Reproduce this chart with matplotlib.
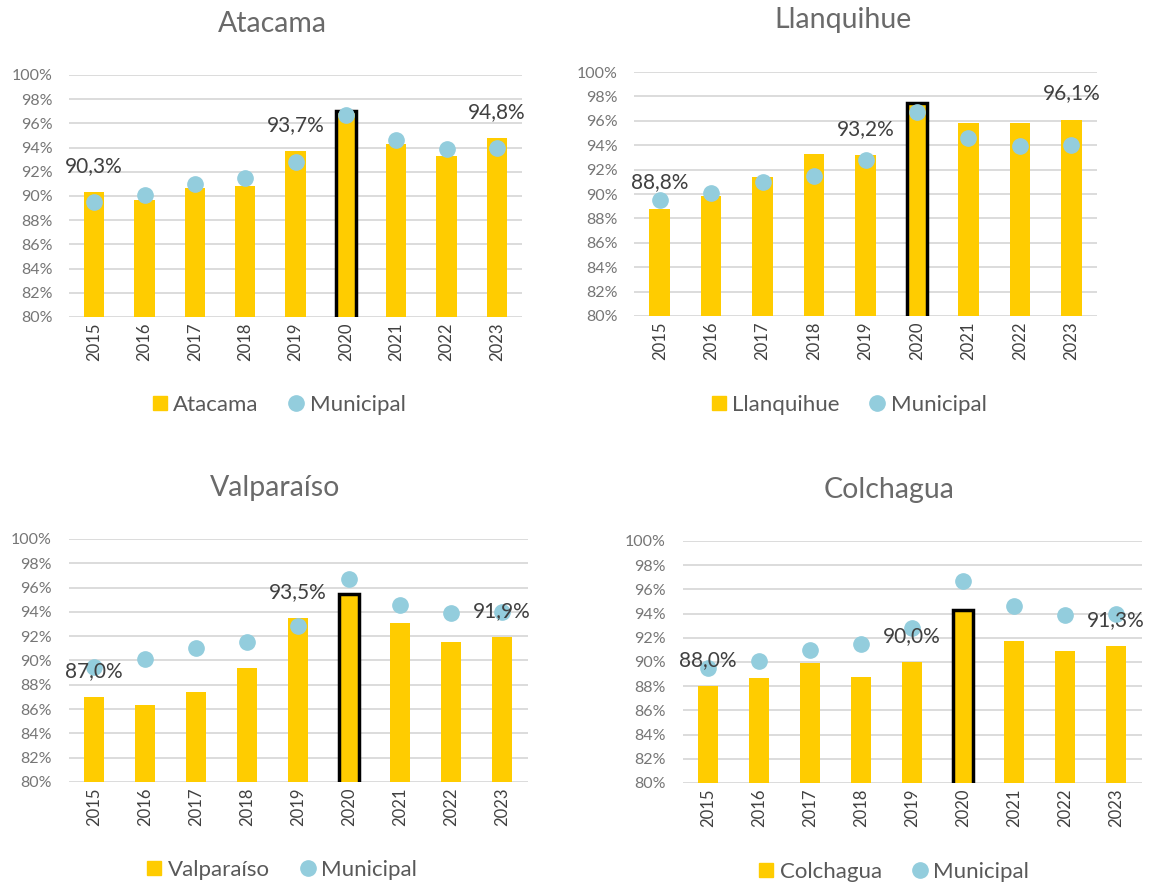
import matplotlib

matplotlib.use("Agg")
import matplotlib.pyplot as plt
from matplotlib.lines import Line2D
from matplotlib.ticker import FuncFormatter

plt.rcParams["font.family"] = ["Lato", "DejaVu Sans"]

years = ["2015", "2016", "2017", "2018", "2019", "2020", "2021", "2022", "2023"]
municipal = [89.5, 90.1, 91.0, 91.5, 92.8, 96.7, 94.6, 93.9, 94.0]
atacama = [90.3, 89.7, 90.7, 90.8, 93.7, 97.0, 94.3, 93.3, 94.8]
llanquihue = [88.8, 89.8, 91.4, 93.3, 93.2, 97.5, 95.8, 95.8, 96.1]
valparaiso = [87.0, 86.3, 87.4, 89.4, 93.5, 95.5, 93.1, 91.5, 91.9]
colchagua = [88.0, 88.7, 89.9, 88.8, 90.0, 94.3, 91.7, 90.9, 91.3]
labelled = [0, 4, 8]
highlight = 5

BAR = "#FFCC00"
DOT = "#93CDDD"
GRID = "#D9D9D9"

W, H = 1153, 884
fig = plt.figure(figsize=(W / 100, H / 100), dpi=100)

# (name, values, axes px box left/right/top/bottom, title xy, legend xy)
panels = [
    ("Atacama", atacama, (69, 522, 75, 317), (272, 24), (277, 405)),
    ("Llanquihue", llanquihue, (634, 1097, 72, 316), (843, 20), (847, 405)),
    ("Valparaíso", valparaiso, (68.5, 527.5, 539, 782), (275, 488), (280, 870)),
    ("Colchagua", colchagua, (682.5, 1141.5, 541, 783), (889, 490), (892, 872)),
]

for name, vals, (l, r, t, b), (tx, ty), (lx, ly) in panels:
    ax = fig.add_axes([l / W, 1 - b / H, (r - l) / W, (b - t) / H])
    x = range(len(years))
    bars = ax.bar(x, vals, width=0.4, color=BAR, zorder=2)
    bars[highlight].set_edgecolor("black")
    bars[highlight].set_linewidth(2.5)
    ax.plot(x, municipal, "o", color=DOT, markersize=11, zorder=3)
    for i in labelled:
        ax.text(i, vals[i] + 2.15, f"{vals[i]:.1f}%".replace(".", ","),
                ha="center", va="center", fontsize=15, color="#404040", zorder=4)

    ax.set_xlim(-0.5, len(years) - 0.5)
    ax.set_ylim(80, 100)
    ax.set_yticks(range(80, 101, 2))
    ax.yaxis.set_major_formatter(FuncFormatter(lambda v, p: f"{int(v)}%"))
    ax.set_xticks(list(x))
    ax.set_xticklabels(years, rotation=90)
    ax.grid(axis="y", color=GRID, linewidth=1.3, zorder=0)
    ax.set_axisbelow(True)
    for s in ax.spines.values():
        s.set_visible(False)
    ax.tick_params(axis="y", length=0, pad=12, labelsize=11.5, labelcolor="#767676")
    ax.tick_params(axis="x", length=0, pad=4, labelsize=12, labelcolor="#404040")

    fig.text(tx / W, 1 - ty / H, name, ha="center", va="center",
             fontsize=20.5, color="#6A6A6A")

    handles = [
        Line2D([], [], marker="s", linestyle="none", color=BAR, markersize=10),
        Line2D([], [], marker="o", linestyle="none", color=DOT, markersize=11),
    ]
    fig.legend(handles, [name, "Municipal"], loc="center",
               bbox_to_anchor=(lx / W, 1 - ly / H), ncol=2, frameon=False,
               fontsize=16, labelcolor="#595959", handletextpad=0.1,
               columnspacing=1.2, handlelength=1.0)

fig.savefig("out.png", dpi=100)
